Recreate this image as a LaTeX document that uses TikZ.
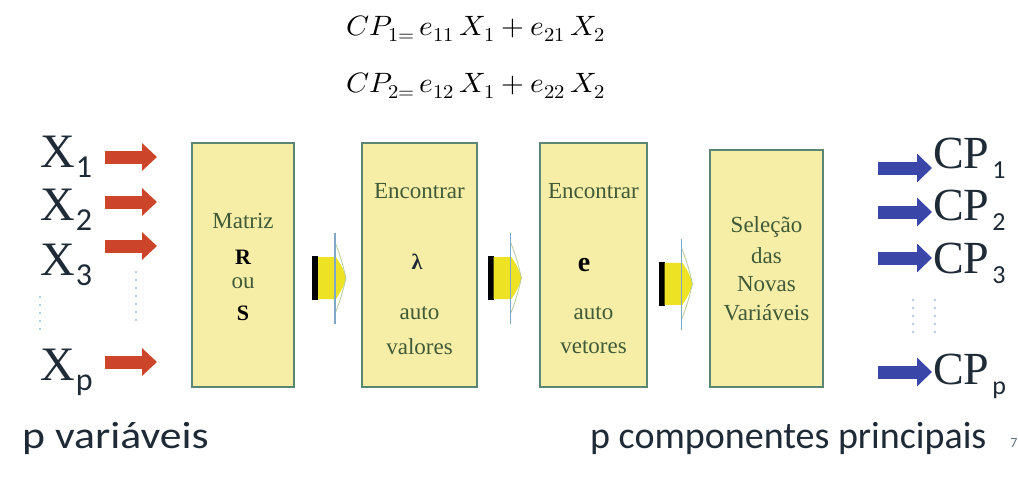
\documentclass[tikz,border=0pt]{standalone}
\usepackage{fontspec}
\usepackage{unicode-math}
\setmainfont{Liberation Serif}
\setmathfont{Latin Modern Math}
\newfontfamily\slidesans{Carlito}
\usetikzlibrary{arrows.meta,calc}

\definecolor{boxfill}{HTML}{F6EEA6}
\definecolor{boxline}{HTML}{5B8673}
\definecolor{boxtext}{HTML}{405A38}
\definecolor{redarr}{HTML}{CC4429}
\definecolor{bluearr}{HTML}{3A46A8}
\definecolor{dotblue}{HTML}{9DB8DC}
\definecolor{arryellow}{HTML}{EDE324}
\definecolor{tipblue}{HTML}{7FA8C8}
\definecolor{tipgreen}{HTML}{B4CC98}
\definecolor{labeltext}{HTML}{1E2A36}

\newcommand\xsub[1]{\hspace{1pt}\raisebox{-10pt}{\slidesans\fontsize{32}{32}\selectfont #1}}
\newcommand\cpsub[1]{\hspace{3pt}\raisebox{-10pt}{\slidesans\fontsize{26}{26}\selectfont #1}}

\tikzset{
  stepbox/.style={draw=boxline, line width=2pt, fill=boxfill, inner sep=0pt},
  boxtxt/.style={text=boxtext, font=\fontsize{23}{25}\selectfont, inner sep=0pt},
  boldtxt/.style={text=black, font=\bfseries\fontsize{22}{24}\selectfont, inner sep=0pt},
  formula/.style={anchor=base west, inner sep=0pt, font=\fontsize{28}{32}\selectfont},
  varlab/.style={text=labeltext, font=\fontsize{48}{50}\selectfont, inner sep=0pt, anchor=base west},
  cplab/.style={text=labeltext, font=\fontsize{46}{48}\selectfont, inner sep=0pt, anchor=base west},
  bottomtxt/.style={text=labeltext, font=\slidesans\fontsize{38}{40}\selectfont, inner sep=0pt, anchor=base west},
  inarrow/.style={draw=redarr, line width=13pt, -{Triangle[length=15pt,width=27pt]}},
  outarrow/.style={draw=bluearr, line width=13pt, -{Triangle[length=15pt,width=28pt]}},
  vdots/.style={dotblue, line width=2.4pt, line cap=round, dash pattern=on 0pt off 8pt},
  flowarr/.pic={
    \fill[black] (-17,-22) rectangle (-11,22);
    \fill[arryellow] (-11,-21) -- (7,-21) .. controls (13,-12) and (16,-5) .. (17,0)
      .. controls (16,5) and (13,12) .. (7,21) -- (-11,21) -- cycle;
    \draw[tipgreen, line width=0.8pt] (6,-36) .. controls (12,-20) .. (17,0) .. controls (12,20) .. (6,36);
    \draw[tipblue, line width=1.8pt] (6,-45) -- (6,46);
  }
}

\begin{document}
\begin{tikzpicture}[x=1pt,y=-1pt]
\useasboundingbox (0,0) rectangle (1018,477);

% formulas on top
\node[formula] (cpa) at (346,35) {\scalebox{1.05}[1]{$CP_{1=}\,e_{11}\,X_1+e_{21}\,X_2$}};
\node[formula] (cpb) at (346,92) {\scalebox{1.05}[1]{$CP_{2=}\,e_{12}\,X_1+e_{22}\,X_2$}};

% process boxes
\node[stepbox, minimum width=102pt, minimum height=244pt] (mat) at (243,265) {};
\node[stepbox, minimum width=115pt, minimum height=244pt] (lam) at (419.5,265) {};
\node[stepbox, minimum width=107pt, minimum height=244pt] (vec) at (593.5,265) {};
\node[stepbox, minimum width=113pt, minimum height=237pt] (sel) at (766.5,268.5) {};

\node[boxtxt] (matA) at (243,221) {Matriz};
\node[boxtxt] (matou) at (243,283) {ou};
\node[boldtxt] (matR) at (243,257) {R};
\node[boldtxt] (matS) at (243,313) {S};

\node[boxtxt] (lamA) at (419.5,191) {Encontrar};
\node[boldtxt, text=labeltext] (lamL) at (417,262) {λ};
\node[boxtxt] (lamB) at (419.5,313) {auto};
\node[boxtxt] (lamC) at (419.5,347) {valores};

\node[boxtxt] (vecA) at (593.5,191) {Encontrar};
\node[boldtxt, font=\bfseries\fontsize{28}{30}\selectfont] (vecE) at (584,265) {e};
\node[boxtxt] (vecB) at (593.5,313) {auto};
\node[boxtxt] (vecC) at (593.5,347) {vetores};

\node[boxtxt] (selA) at (766.5,227) {Seleção};
\node[boxtxt] (selB) at (766.5,256) {das};
\node[boxtxt] (selC) at (766.5,284) {Novas};
\node[boxtxt] (selD) at (766.5,313) {Variáveis};

% block arrows between the steps
\path ($(mat.east)!0.5!(lam.west)$) ++(1,13) pic {flowarr};
\path ($(lam.east)!0.5!(vec.west)$) ++(-4,13) pic {flowarr};
\path ($(vec.east)!0.5!(sel.west)$) ++(-3,17) pic {flowarr};

% input variables
\foreach \i/\yb/\ya in {1/167/157, 2/220/202, 3/275/246, p/380/362} {
  \node[varlab] (x\i) at (40,\yb) {X\xsub{\i}};
  \coordinate (in\i) at (105,\ya);
  \draw[inarrow] (in\i) -- ++(52,0);
}
\draw[vdots] (40,297) -- (40,334);
\draw[vdots] (136,272) -- (136,320);

% principal components
\foreach \i/\yb/\ya in {1/168/168, 2/220/212, 3/273/258, p/384/372} {
  \coordinate (out\i) at (878,\ya);
  \draw[outarrow] (out\i) -- ++(54,0);
  \node[cplab] (cp\i) at (933,\yb) {CP\cpsub{\i}};
}
\draw[vdots] (913,300) -- (913,334);
\draw[vdots] (935,300) -- (935,334);

% captions
\node[bottomtxt] (pvar) at (22,448) {\scalebox{1.15}[1]{p variáveis}};
\node[bottomtxt] (pcomp) at (590,448) {p componentes principais};
\node[text=dotblue!60!black, font=\slidesans\fontsize{14}{14}\selectfont, inner sep=0pt] (pg) at (1014,443) {7};
\end{tikzpicture}
\end{document}
